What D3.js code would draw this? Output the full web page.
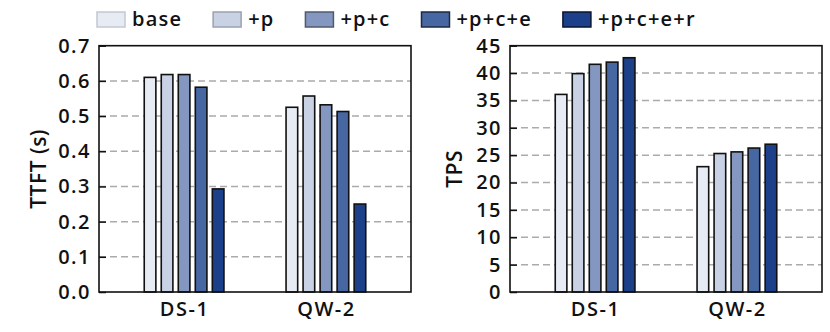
<!DOCTYPE html>
<html>
<head>
    <meta charset="utf-8">
    <title>TTFT and TPS</title>
    <script src="https://d3js.org/d3.v7.min.js"></script>
    <style type="text/css">
        body { margin: 0; background: white; }
        text { font-family: "Open Sans", sans-serif; font-weight: 600; fill: #111; }
    </style>
</head>
<body>
    <script type="text/javascript">
        // data
        let models = ["DS-1", "QW-2"];
        let variants = ["base", "+p", "+p+c", "+p+c+e", "+p+c+e+r"];
        let colors = ["#e7ebf3", "#c8d2e4", "#8497c0", "#4667a2", "#1c418a"];
        let legendEdges = ["#c4c8d0", "#9aa2b0", "#505a6e", "#1f2a40", "#0a1530"];

        let ttft = [
            [0.61, 0.618, 0.618, 0.582, 0.293],   // DS-1
            [0.525, 0.557, 0.532, 0.513, 0.25]    // QW-2
        ];
        let tps = [
            [36.1, 39.9, 41.6, 42.0, 42.8],
            [22.9, 25.3, 25.6, 26.3, 27.0]
        ];
        let ttftTicks = [0, 0.1, 0.2, 0.3, 0.4, 0.5, 0.6, 0.7];
        let tpsTicks = [0, 5, 10, 15, 20, 25, 30, 35, 40, 45];

        let W = 830, H = 332;
        let svg = d3.select("body").append("svg")
            .attr("width", W)
            .attr("height", H);

        function drawPanel(left, values, ticks, ymax, fmt, title) {
            let top = 45.7, bottom = 292, width = 312;
            let g = svg.append("g");

            let x = d3.scaleLinear().domain([-0.6, 1.6]).range([left, left + width]);
            let y = d3.scaleLinear().domain([0, ymax]).range([bottom, top]);

            // dashed grid
            g.selectAll(".grid").data(ticks.filter(t => t > 0 && t < ymax))
                .enter().append("line")
                .attr("x1", left).attr("x2", left + width)
                .attr("y1", d => y(d)).attr("y2", d => y(d))
                .style("stroke", "#ababab")
                .style("stroke-width", 1.5)
                .style("stroke-dasharray", "7,4");

            // bars
            let step = 0.12, bw = 0.082;
            values.forEach(function(row, gi) {
                g.selectAll(".bar" + gi).data(row)
                    .enter().append("rect")
                    .attr("x", (d, i) => x(gi + (i - 2) * step - bw / 2))
                    .attr("width", x(bw) - x(0))
                    .attr("y", d => y(d))
                    .attr("height", d => y(0) - y(d))
                    .style("fill", (d, i) => colors[i])
                    .style("stroke", "#111")
                    .style("stroke-width", 1.6);
            });

            // y axis (ticks pointing in)
            let yAxis = d3.axisLeft(y).tickValues(ticks).tickFormat(fmt)
                .tickSizeInner(-7).tickSizeOuter(0).tickPadding(8);
            let ya = g.append("g").attr("transform", "translate(" + left + ",0)").call(yAxis);
            ya.select(".domain").remove();
            ya.selectAll("line").style("stroke", "#111").style("stroke-width", 1.5);
            ya.selectAll("text").style("font-size", "20px").style("fill", "#111")
                .style("letter-spacing", "1.5px")
                .style("font-family", "'Open Sans', sans-serif");

            // x axis labels
            let xAxis = d3.axisBottom(x).tickValues([0, 1]).tickFormat(d => models[d])
                .tickSize(0).tickPadding(10);
            let xa = g.append("g").attr("transform", "translate(0," + bottom + ")").call(xAxis);
            xa.select(".domain").remove();
            xa.selectAll("text").style("font-size", "20px").style("fill", "#111")
                .style("letter-spacing", "1.5px")
                .style("font-family", "'Open Sans', sans-serif");

            // frame
            g.append("rect")
                .attr("x", left).attr("y", top)
                .attr("width", width).attr("height", bottom - top)
                .style("fill", "none")
                .style("stroke", "#111")
                .style("stroke-width", 1.6);

            // y title
            g.append("text")
                .attr("transform", "translate(" + (left - (left > 300 ? 48 : 53)) + "," + ((top + bottom) / 2) + ") rotate(-90)")
                .attr("text-anchor", "middle")
                .style("font-size", "21px")
                .style("letter-spacing", "0.5px")
                .text(title);
        }

        drawPanel(99, ttft, ttftTicks, 0.7, d3.format(".1f"), "TTFT (s)");
        drawPanel(510, tps, tpsTicks, 45, d3.format("d"), "TPS");

        // legend along the top
        let lx = 97;
        let legend = svg.append("g");
        variants.forEach(function(v, i) {
            legend.append("rect")
                .attr("x", lx).attr("y", 12)
                .attr("width", 28).attr("height", 15)
                .style("fill", colors[i])
                .style("stroke", legendEdges[i])
                .style("stroke-width", 1.5);
            let t = legend.append("text")
                .attr("x", lx + 35).attr("y", 26)
                .style("font-size", "20px")
                .style("letter-spacing", "1.2px")
                .text(v);
            lx += 35 + t.node().getComputedTextLength() + 31;
        });
    </script>
</body>
</html>
